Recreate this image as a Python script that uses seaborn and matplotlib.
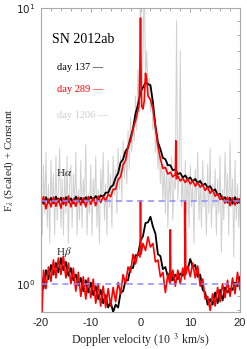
import numpy as np
import pandas as pd
import matplotlib
matplotlib.use("Agg")
import matplotlib.pyplot as plt
import seaborn as sns
from matplotlib.ticker import FixedLocator, NullFormatter

# ---------------- data ----------------
vel_grid = [-20, -19.5, -19, -18.5, -18, -17.5, -17, -16.5, -16, -15.5, -15, -14.5, -14, -13.5,
            -13, -12.5, -12, -11.5, -11, -10.5, -10, -9.5, -9, -8.5, -8, -7.5, -7, -6.5, -6,
            -5.5, -5, -4.5, -4, -3.5, -3, -2.5, -2, -1.5, -1, -0.5, 0, 0.5, 1, 1.5, 2, 2.5, 3,
            3.5, 4, 4.5, 5, 5.5, 6, 6.5, 7, 7.5, 8, 8.5, 9, 9.5, 10, 10.5, 11, 11.5, 12, 12.5,
            13, 13.5, 14, 14.5, 15, 15.5, 16, 16.5, 17, 17.5, 18, 18.5, 19, 19.5, 20]

# H-alpha, day 137 (black)
ha_137 = [2.04, 1.95, 2.06, 1.97, 2.05, 1.96, 2.07, 1.98, 2.05, 1.95,
          2.06, 1.98, 2.04, 1.96, 2.07, 1.99, 2.05, 1.97, 2.06, 2.00,
          2.07, 2.01, 2.08, 2.02, 2.09, 2.07, 2.14, 2.14, 2.24, 2.28,
          2.42, 2.52, 2.75, 2.83, 3.03, 3.12, 3.38, 3.66, 4.14, 4.46,
          4.95, 5.15, 5.36, 5.30, 5.25, 4.55, 3.74, 3.26, 3.08, 2.86,
          2.83, 2.69, 2.69, 2.58, 2.60, 2.50, 2.52, 2.43, 2.47, 2.39,
          2.43, 2.35, 2.40, 2.32, 2.36, 2.27, 2.31, 2.23, 2.26, 2.17,
          2.20, 2.10, 2.12, 2.02, 2.06, 1.97, 2.05, 1.95, 2.06, 1.96,
          2.03]

# H-beta, day 137 (black)
hb_137 = [1.08, 0.96, 1.12, 1.04, 1.17, 1.08, 1.19, 1.10, 1.24, 1.12,
          1.20, 1.07, 1.14, 1.03, 1.08, 0.99, 1.05, 0.94, 1.03, 0.93,
          1.01, 0.91, 0.98, 0.88, 0.95, 0.85, 0.91, 0.82, 0.86, 0.79,
          0.84, 0.82, 0.93, 0.94, 1.03, 1.03, 1.15, 1.14, 1.27, 1.27,
          1.43, 1.49, 1.66, 1.67, 1.75, 1.61, 1.52, 1.28, 1.26, 1.13,
          1.15, 1.06, 1.11, 1.03, 1.08, 1.04, 1.09, 1.07, 1.15, 1.13,
          1.23, 1.15, 1.17, 1.06, 1.08, 0.95, 0.93, 0.84, 0.88, 0.84,
          0.93, 0.85, 0.95, 0.87, 0.97, 0.93, 0.96, 0.95, 1.01, 0.98,
          1.06]

# H-alpha, day 289 (red)
ha_289_v = [-20, -19.5, -19, -18.5, -18, -17.5, -17, -16.5, -16, -15.5, -15, -14.5, -14, -13.5,
            -13, -12.5, -12, -11.5, -11, -10.5, -10, -9.5, -9, -8.5, -8, -7.5, -7, -6.5, -6,
            -5.5, -5, -4.5, -4, -3.5, -3, -2.5, -2, -1.5, -1, -0.5,
            -0.25, -0.1, 0, 0.1, 0.25,
            0.5, 0.75, 1, 1.25, 1.5,
            2, 2.5, 3, 3.5, 4, 4.5, 5, 5.5, 6, 6.5, 7,
            7.1, 7.2,
            7.5, 8, 8.5, 9, 9.5, 10, 10.5, 11, 11.5, 12, 12.5, 13, 13.5, 14, 14.5, 15, 15.5, 16,
            16.5, 17, 17.5, 18, 18.5, 19, 19.5, 20]
ha_289 = [1.94, 2.07, 1.87, 2.03, 1.90, 2.06, 1.91, 2.04, 1.88, 2.05, 1.92, 2.08, 1.90, 2.03,
          1.91, 2.06, 1.93, 2.05, 1.90, 2.07, 1.94, 2.05, 1.92, 2.08, 1.97, 2.07, 2.00, 2.11,
          2.07, 2.20, 2.20, 2.39, 2.44, 2.70, 2.80, 3.15, 3.30, 3.66, 3.90, 4.25,
          4.50, 6.50, 9.20, 6.00, 4.40,
          4.30, 4.60, 5.80, 5.50, 4.80,
          4.65, 4.30, 3.70, 3.15, 2.84, 2.62, 2.64, 2.50, 2.54, 2.44, 2.49,
          3.30, 2.40,
          2.46, 2.36, 2.41, 2.33, 2.40, 2.30, 2.36, 2.26, 2.33, 2.24, 2.29, 2.18, 2.24, 2.13,
          2.19, 2.08, 2.12, 2.02, 2.07, 1.96, 2.06, 1.92, 2.05, 1.93, 2.04, 1.96]

# H-beta, day 289 (red)
hb_289_v = [-20, -19.8,
            -19.5, -19, -18.5, -18, -17.5, -17, -16.5, -16, -15.5, -15, -14.5, -14, -13.5,
            -13, -12.5, -12, -11.5, -11, -10.5, -10, -9.5, -9, -8.5, -8, -7.5, -7, -6.5, -6,
            -5.5, -5, -4.5, -4, -3.5, -3, -2.5, -2, -1.5, -1, -0.5,
            -0.1, 0, 0.1, 0.5, 1, 1.5, 2, 2.5, 3, 3.5, 4, 4.5, 5, 5.5, 5.9, 6, 6.1, 6.5, 7,
            7.5, 8, 8.5, 8.9, 9, 9.1,
            9.5, 10, 10.5, 11, 11.5, 12, 12.5, 13, 13.5, 14, 14.5, 15, 15.5, 16, 16.5, 17,
            17.5, 18, 18.5, 19, 19.5, 20]
hb_289 = [0.95, 0.78,
          1.12, 0.96, 1.15, 1.02, 1.22, 1.05, 1.24, 1.08, 1.26, 1.05, 1.19, 1.00, 1.14,
          0.94, 1.10, 0.90, 1.06, 0.88, 1.05, 0.89, 1.04, 0.85, 1.00, 0.83, 0.98, 0.82, 0.96,
          0.83, 0.97, 0.86, 1.01, 0.92, 1.08, 1.00, 1.15, 1.10, 1.28, 1.18, 1.30,
          1.25, 2.00, 1.28, 1.40, 1.32, 1.48, 1.36, 1.40, 1.20, 1.22, 1.06, 1.10, 0.93, 1.08,
          1.00, 1.57, 1.02, 1.12, 0.98,
          1.12, 1.00, 1.14, 1.04, 2.00, 1.08,
          1.16, 1.06, 1.19, 1.05, 1.16, 0.98, 1.04, 0.88, 0.90, 0.80, 0.92, 0.83, 0.97, 0.86,
          1.00, 0.89, 1.03, 0.90, 1.05, 0.92, 1.10, 0.95]

# H-alpha, day 1206 (light grey), sampled every 250 km/s from -20 to 20
vel_fine = np.arange(-20, 20.01, 0.25)
ha_1206 = [2.2, 1.5, 2.7, 1.8, 3.0, 1.6, 2.3, 1.4, 2.8, 1.9, 2.5, 1.5, 2.9, 1.7, 2.2, 3.1, 1.6, 2.4, 1.5, 2.6,
           1.8, 2.9, 1.4, 2.3, 2.7, 1.6, 2.5, 1.9, 3.0, 1.5, 2.2, 1.7, 2.8, 1.6, 2.4, 2.0, 3.2, 1.5, 2.1, 1.8,
           2.7, 1.5, 2.4, 1.9, 2.9, 1.6, 2.2, 1.4, 2.6, 2.0, 3.0, 1.7, 2.3, 1.5, 2.8, 1.9, 2.5, 1.6, 2.9, 2.1,
           2.6, 1.8, 3.1, 2.2, 2.9, 2.0, 3.3, 2.4, 3.0, 2.3, 3.6, 2.6, 4.0, 3.0, 3.8, 3.3, 4.8, 3.6, 6.0, 4.2,
           14.0, 5.0, 6.5, 14.0, 5.5, 7.0, 4.8, 5.6, 4.2, 4.9, 3.6, 4.2, 3.0, 3.6, 2.6, 3.2, 2.3, 2.9, 2.0, 2.7,
           1.8, 2.8, 1.6, 2.5, 2.0, 2.9, 1.7, 2.4, 2.2, 9.0, 2.0, 2.6, 7.0, 1.9, 2.4, 1.5, 2.8, 1.8, 2.5, 1.6,
           2.7, 1.9, 2.3, 1.4, 2.6, 2.0, 3.0, 1.7, 2.4, 1.6, 2.8, 1.9, 2.2, 1.5, 2.7, 1.8, 3.1, 1.6, 2.3, 1.9,
           2.6, 1.5, 2.4, 1.8, 2.9, 1.3, 2.2, 1.7, 3.0, 2.0, 2.5, 1.5, 3.3, 1.9, 2.4, 1.25, 2.8, 1.7, 2.3, 1.6,
           2.1]

baselines = [2.0, 1.0]
labels = ["day 137 \u2014", "day 289 \u2014", "day 1206 \u2014"]
line_names = [r"H$\alpha$", r"H$\beta$"]

# ---------------- figure ----------------
sns.set_theme(style="white")
plt.rcParams["font.family"] = ["Liberation Serif", "DejaVu Serif"]
plt.rcParams["mathtext.fontset"] = "stix"

fig = plt.figure(figsize=(2.47, 3.49), dpi=100)
ax = fig.add_axes([41 / 247, 1 - 312 / 349, 199 / 247, 304 / 349])

grey = "#d0d0d0"
sns.lineplot(x=vel_fine, y=ha_1206, ax=ax, color=grey, lw=0.7, estimator=None, sort=False)
sns.lineplot(x=vel_grid, y=ha_137, ax=ax, color="black", lw=1.3, estimator=None, sort=False)
sns.lineplot(x=vel_grid, y=hb_137, ax=ax, color="black", lw=1.3, estimator=None, sort=False)
sns.lineplot(x=ha_289_v, y=ha_289, ax=ax, color="red", lw=1.2, estimator=None, sort=False)
sns.lineplot(x=hb_289_v, y=hb_289, ax=ax, color="red", lw=1.2, estimator=None, sort=False)
for b in baselines:
    ax.axhline(b, color="#8c8cff", lw=1.1, ls=(0, (4, 3)), zorder=5)

ax.set_yscale("log")
ax.set_xlim(-20, 20)
ax.set_ylim(0.79, 10)

ax.set_xticks([-20, -10, 0, 10, 20])
ax.set_xticklabels(["-20", "-10", "0", "10", "20"])
ax.xaxis.set_minor_locator(FixedLocator(list(range(-20, 21, 2))))
ax.set_yticks([1, 10])
ax.set_yticklabels([r"$10^0$", r"$10^1$"])
ax.yaxis.set_minor_locator(FixedLocator([0.8, 0.9, 2, 3, 4, 5, 6, 7, 8, 9]))
ax.yaxis.set_minor_formatter(NullFormatter())

for lab in ax.get_xticklabels():
    lab.set_family(["Liberation Sans", "DejaVu Sans"])
    lab.set_fontsize(8)
for lab in ax.get_yticklabels():
    lab.set_family(["Liberation Sans", "DejaVu Sans"])
    lab.set_fontsize(7.5)
    lab.set_math_fontfamily("dejavusans")
ax.tick_params(which="both", direction="in", top=True, right=True, colors="#999999",
               labelcolor="#222222", width=0.6)
ax.tick_params(which="major", length=3, pad=4)
ax.tick_params(which="minor", length=2)
for s in ax.spines.values():
    s.set_color("#aaaaaa")
    s.set_linewidth(0.8)

ax.set_xlabel(r"Doppler velocity (10 $^{\ 3}$ km/s)", fontsize=8.5, labelpad=3)
ax.set_ylabel(r"F$_\lambda$ (Scaled) + Constant", fontsize=8)
ax.yaxis.set_label_coords(-0.125, 0.5)

ax.text(0.055, 0.895, "SN 2012ab", transform=ax.transAxes, fontsize=10, color="black",
        va="center")
for i, (lab, col) in enumerate(zip(labels, ["black", "red", "#cccccc"])):
    yp = [67, 89, 116][i]
    ax.text(0.08, (312 - yp) / 304, lab, transform=ax.transAxes, fontsize=7.5, color=col,
            va="center")
ax.text(0.075, (312 - 173) / 304, line_names[0], transform=ax.transAxes, fontsize=8,
        va="center")
ax.text(0.075, (312 - 252) / 304, line_names[1], transform=ax.transAxes, fontsize=8,
        va="center")

fig.savefig("out.png", dpi=100)
